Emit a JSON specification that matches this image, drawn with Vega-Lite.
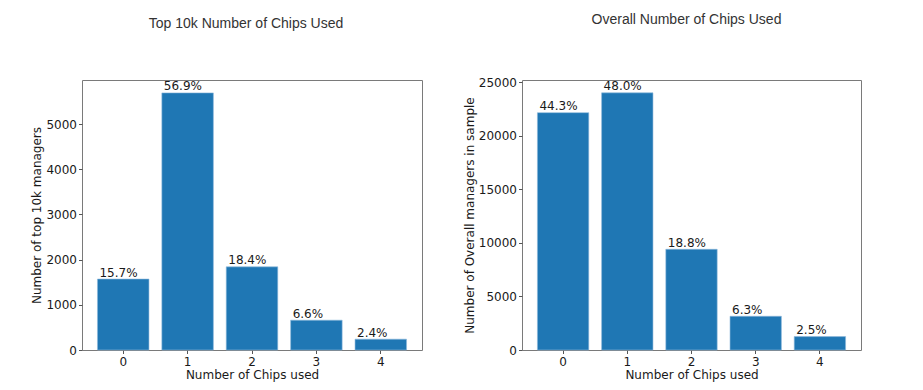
{
  "$schema": "https://vega.github.io/schema/vega-lite/v6.json",
  "background": "white",
  "padding": {"left": 30, "top": 12, "right": 5, "bottom": 5},
  "spacing": 39,
  "config": {
    "font": "DejaVu Sans",
    "view": {"stroke": "#7a7a7a", "strokeWidth": 1},
    "axis": {
      "labelFont": "DejaVu Sans",
      "titleFont": "DejaVu Sans",
      "labelFontSize": 12,
      "titleFontSize": 12,
      "labelColor": "#1a1a1a",
      "titleColor": "#1a1a1a",
      "titleFontWeight": "normal",
      "tickColor": "#555555",
      "tickSize": 3.5,
      "labelPadding": 2,
      "domain": false,
      "grid": false
    },
    "title": {
      "font": "Liberation Sans",
      "fontSize": 14,
      "fontWeight": "normal",
      "color": "#333333",
      "anchor": "middle",
      "frame": "group"
    }
  },
  "hconcat": [
    {
      "width": 340,
      "height": 270,
      "title": {"text": "Top 10k Number of Chips Used", "offset": 49, "dx": -6},
      "data": {"values": [
        {"chips": "0", "count": 1570, "label": "15.7%"},
        {"chips": "1", "count": 5690, "label": "56.9%"},
        {"chips": "2", "count": 1840, "label": "18.4%"},
        {"chips": "3", "count": 660, "label": "6.6%"},
        {"chips": "4", "count": 240, "label": "2.4%"}
      ]},
      "encoding": {
        "x": {"field": "chips", "type": "ordinal", "scale": {"paddingInner": 0.2, "paddingOuter": 0.24},
              "axis": {"title": "Number of Chips used", "labelAngle": 0, "labelPadding": 3, "titlePadding": 2}},
        "y": {"field": "count", "type": "quantitative", "scale": {"domain": [0, 5975], "nice": false, "zero": true},
              "axis": {"title": "Number of top 10k managers", "format": "d", "values": [0, 1000, 2000, 3000, 4000, 5000], "titlePadding": 2}}
      },
      "layer": [
        {"mark": {"type": "bar", "color": "#1f77b4", "stroke": "#8fb8dc", "strokeWidth": 0.6}},
        {"mark": {"type": "text", "align": "left", "baseline": "alphabetic", "dx": 2, "dy": -2.5, "fontSize": 12, "color": "#1a1a1a"},
         "encoding": {"x": {"field": "chips", "type": "ordinal", "bandPosition": 0}, "text": {"field": "label"}}}
      ]
    },
    {
      "width": 339,
      "height": 270,
      "title": {"text": "Overall Number of Chips Used", "offset": 49, "dx": -5},
      "data": {"values": [
        {"chips": "0", "count": 22150, "label": "44.3%"},
        {"chips": "1", "count": 24000, "label": "48.0%"},
        {"chips": "2", "count": 9400, "label": "18.8%"},
        {"chips": "3", "count": 3150, "label": "6.3%"},
        {"chips": "4", "count": 1250, "label": "2.5%"}
      ]},
      "encoding": {
        "x": {"field": "chips", "type": "ordinal", "scale": {"paddingInner": 0.2, "paddingOuter": 0.24},
              "axis": {"title": "Number of Chips used", "labelAngle": 0, "labelPadding": 3, "titlePadding": 2}},
        "y": {"field": "count", "type": "quantitative", "scale": {"domain": [0, 25200], "nice": false, "zero": true},
              "axis": {"title": "Number of Overall managers in sample", "format": "d", "values": [0, 5000, 10000, 15000, 20000, 25000], "titlePadding": 2}}
      },
      "layer": [
        {"mark": {"type": "bar", "color": "#1f77b4", "stroke": "#8fb8dc", "strokeWidth": 0.6}},
        {"mark": {"type": "text", "align": "left", "baseline": "alphabetic", "dx": 2, "dy": -2.5, "fontSize": 12, "color": "#1a1a1a"},
         "encoding": {"x": {"field": "chips", "type": "ordinal", "bandPosition": 0}, "text": {"field": "label"}}}
      ]
    }
  ]
}
